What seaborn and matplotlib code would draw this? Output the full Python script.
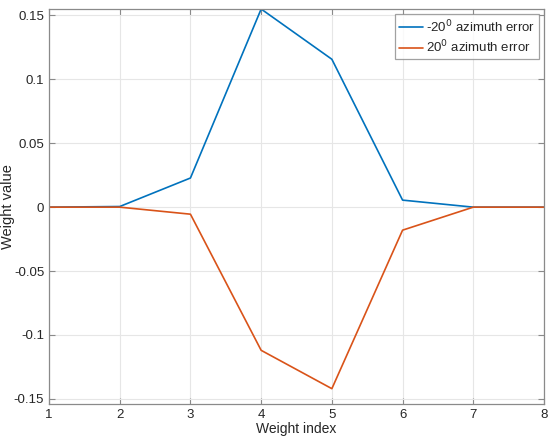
import numpy as np
import pandas as pd
import matplotlib
matplotlib.use('Agg')
import matplotlib.pyplot as plt
import seaborn as sns

# Weight values
weight_index = [1, 2, 3, 4, 5, 6, 7, 8]
neg20_error = [0.0, 0.0005, 0.0228, 0.155, 0.1157, 0.0055, 0.0, 0.0]
pos20_error = [0.0, 0.0, -0.0055, -0.112, -0.142, -0.018, 0.0, 0.0]
labels = ['-20$^0$ azimuth error', '20$^0$ azimuth error']
colors = ['#0072BD', '#D95319']

data = pd.DataFrame({
    'Weight index': weight_index * 2,
    'Weight value': neg20_error + pos20_error,
    'series': [labels[0]] * len(weight_index) + [labels[1]] * len(weight_index),
})

sns.set_style('whitegrid')
plt.rcParams['font.family'] = ['Liberation Sans', 'DejaVu Sans']

fig = plt.figure(figsize=(5.52, 4.4), dpi=100)
ax = fig.add_axes([0.0888, 0.0818, 0.8967, 0.8977])

sns.lineplot(data=data, x='Weight index', y='Weight value', hue='series',
             palette=colors, linewidth=1.2, ax=ax)

ax.set_xlim(1, 8)
ax.set_ylim(-0.154, 0.155)
ax.set_xticks(weight_index)
yt = [-0.15, -0.1, -0.05, 0, 0.05, 0.1, 0.15]
ax.set_yticks(yt)
ax.set_yticklabels(['%g' % v for v in yt])

ax.grid(True, color='#e6e6e6', linewidth=0.8)
for s in ax.spines.values():
    s.set_color('#8a8a8a')
    s.set_linewidth(0.9)
ax.tick_params(direction='in', length=4, color='#8a8a8a', labelsize=9.5,
               labelcolor='#262626', top=True, right=True, bottom=True, left=True)
ax.set_xlabel('Weight index', fontsize=10, color='#262626', labelpad=1)
ax.set_ylabel('Weight value', fontsize=10.5, color='#262626')
ax.yaxis.set_label_coords(-0.0687, 0.5)

leg = ax.legend(loc='upper right', fontsize=9.5, frameon=True, fancybox=False,
                borderaxespad=0.4, handlelength=1.8, handletextpad=0.2,
                borderpad=0.3, labelspacing=0.3)
leg.get_frame().set_edgecolor('#8a8a8a')
leg.get_frame().set_linewidth(0.9)
leg.set_title(None)

fig.savefig('out.png', dpi=100)
